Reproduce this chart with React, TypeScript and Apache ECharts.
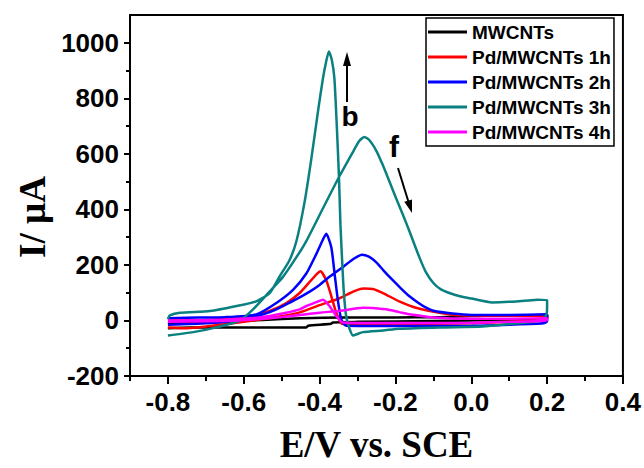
import React, { useEffect, useRef } from "react";
import * as echarts from "echarts";

// ---- data (E in V vs. SCE, I in µA); each curve is a closed CV loop ----
const seriesNames = ["MWCNTs", "Pd/MWCNTs 1h", "Pd/MWCNTs 2h", "Pd/MWCNTs 3h", "Pd/MWCNTs 4h"];
const seriesColors = ["#000000", "#ff0000", "#0000ff", "#0a8080", "#ff00ff"];

const mwcntsE = [-0.8, -0.742, -0.6, -0.435, -0.43, -0.37, -0.365, -0.3, -0.1, 0.1, 0.2, 0.2, 0.18, 0.1, 0.0, -0.084, -0.2, -0.347, -0.45, -0.55, -0.681, -0.8];
const mwcntsI = [-28, -25, -25, -25, -19, -12, -7, -5, -2, 2, 8, 20, 19, 19, 16, 12, 11, 11, 8, 2, -7, -10];

const pd1hE = [-0.8, -0.75, -0.7, -0.6, -0.55, -0.5, -0.45, -0.4, -0.347, -0.32, -0.3, -0.282, -0.26, -0.24, -0.225, -0.19, -0.146, -0.084, -0.03, 0.1, 0.2,
  0.2, 0.1, 0.0, -0.2, -0.339, -0.356, -0.369, -0.3824, -0.398, -0.422, -0.4526, -0.4876, -0.532, -0.593, -0.7, -0.8];
const pd1hI = [-25, -28, -22, -5, 5, 15, 30, 55, 80, 98, 110, 115, 113, 103, 93, 69, 46, 28, 19, 17, 16,
  5, -5, -10, -13, -13, 28, 87, 145, 177, 145, 99, 63, 34, 11, 2, 0];

const pd2hE = [-0.8, -0.7, -0.62, -0.567, -0.549, -0.52, -0.4966, -0.46, -0.426, -0.4, -0.374, -0.339, -0.31, -0.2887, -0.27, -0.251, -0.23, -0.207, -0.185, -0.163, -0.14, -0.119, -0.1, -0.05, 0.0, 0.1, 0.2,
  0.2, 0.19, 0.1, 0.0, -0.2, -0.33, -0.343, -0.352, -0.3605, -0.369, -0.3824, -0.395, -0.4088, -0.435, -0.47, -0.514, -0.567, -0.65, -0.75, -0.8];
const pd2hI = [-15, -10, 0, 15, 22, 36, 52, 78, 104, 128, 157, 192, 222, 237, 230, 210, 178, 145, 115, 87, 64, 46, 35, 25, 20, 20, 22,
  -3, -10, -15, -19, -20, -19, 5, 75, 169, 263, 312, 280, 239, 169, 110, 63, 22, 12, 10, 8];

const pd3hE = [-0.8, -0.733, -0.672, -0.611, -0.5755, -0.532, -0.4966, -0.461, -0.435, -0.391, -0.347, -0.31, -0.295, -0.282, -0.268, -0.25, -0.235, -0.22, -0.198, -0.18, -0.163, -0.137, -0.12, -0.1, -0.08, -0.054, -0.03, 0.0, 0.055, 0.1, 0.15, 0.174, 0.2,
  0.2, 0.197, 0.18, 0.1, 0.03, -0.084, -0.19, -0.233, -0.286, -0.312, -0.321, -0.33, -0.336, -0.34, -0.345, -0.349, -0.3545, -0.361, -0.368, -0.3755, -0.383, -0.391, -0.404, -0.422, -0.4395, -0.461, -0.48, -0.505, -0.532, -0.567, -0.619, -0.689, -0.768, -0.795, -0.8];
const pd3hI = [-54, -42, -25, -1, 40, 104, 157, 228, 286, 404, 521, 612, 647, 661, 648, 610, 565, 515, 439, 380, 321, 228, 175, 135, 112, 97, 87, 79, 65, 67, 72, 75, 74,
  46, 17, -1, -13, -22, -25, -30, -36, -42, -54, -30, 16, 100, 200, 345, 521, 697, 873, 940, 969, 930, 873, 755, 580, 427, 286, 215, 160, 98, 69, 52, 34, 28, 18, 5];

const pd4hE = [-0.8, -0.7, -0.619, -0.55, -0.5, -0.45, -0.4, -0.35, -0.3297, -0.3, -0.286, -0.26, -0.225, -0.19, -0.163, -0.1, 0.0, 0.1, 0.2,
  0.2, 0.1, 0.0, -0.2, -0.339, -0.356, -0.374, -0.391, -0.41, -0.435, -0.4526, -0.488, -0.558, -0.65, -0.8];
const pd4hI = [-5, -3, 0, 6, 12, 20, 28, 34, 38, 44, 46, 45, 40, 30, 22, 11, 6, 6, 8,
  0, -5, -8, -9, -7, 16, 52, 75, 65, 52, 40, 28, 11, 3, 0];

const curveE = [mwcntsE, pd1hE, pd2hE, pd3hE, pd4hE];
const curveI = [mwcntsI, pd1hI, pd2hI, pd3hI, pd4hI];

const xMajorTicks = [-0.8, -0.6, -0.4, -0.2, 0.0, 0.2, 0.4];
const xMinorTicks = [-0.9, -0.7, -0.5, -0.3, -0.1, 0.1, 0.3];
const yMajorTicks = [-200, 0, 200, 400, 600, 800, 1000];
const yMinorTicks = [-100, 100, 300, 500, 700, 900];

const sans = "Liberation Sans";
const serif = "Liberation Serif";

export default function App() {
  const ref = useRef<HTMLDivElement>(null);

  useEffect(() => {
    if (!ref.current) return;
    const chart = echarts.init(ref.current, null, { renderer: "svg" });

    const series = seriesNames.map((name, k) => ({
      name,
      type: "line",
      xAxisIndex: 0,
      yAxisIndex: 0,
      data: curveE[k].map((e, i) => [e, curveI[k][i]]),
      showSymbol: false,
      symbol: "none",
      smooth: 0.2,
      lineStyle: { color: seriesColors[k], width: 2.5 },
      itemStyle: { color: seriesColors[k] },
      z: 2 + k,
    }));

    const tickLabel = {
      color: "#000",
      fontFamily: sans,
      fontWeight: "bold" as const,
      fontSize: 26,
    };

    chart.setOption({
      animation: false,
      backgroundColor: "#fff",
      grid: {
        left: 130,
        right: 20,
        top: 15,
        bottom: 83,
        show: true,
        borderColor: "#000",
        borderWidth: 2,
        backgroundColor: "transparent",
      },
      legend: {
        orient: "vertical",
        left: 426,
        top: 18,
        padding: [4, 3, 4, 2],
        icon: "rect",
        itemWidth: 39,
        itemHeight: 3,
        itemGap: 5,
        selectedMode: false,
        backgroundColor: "#fff",
        borderColor: "#000",
        borderWidth: 1.5,
        data: seriesNames,
        textStyle: {
          color: "#000",
          fontFamily: sans,
          fontWeight: "bold",
          fontSize: 19,
          lineHeight: 20,
        },
      },
      xAxis: [
        {
          type: "value",
          min: -0.9,
          max: 0.4,
          position: "bottom",
          axisLine: { show: true, onZero: false, lineStyle: { color: "#000", width: 2 } },
          axisTick: { show: true, customValues: xMajorTicks, length: 8, lineStyle: { color: "#000", width: 2 } },
          axisLabel: {
            ...tickLabel,
            customValues: xMajorTicks,
            margin: 13,
            formatter: (v: number) => v.toFixed(1),
          },
          splitLine: { show: false },
          name: "E/V vs. SCE",
          nameLocation: "middle",
          nameGap: 50,
          nameTextStyle: { color: "#000", fontFamily: serif, fontWeight: "bold", fontSize: 37 },
        },
        {
          type: "value",
          min: -0.9,
          max: 0.4,
          position: "bottom",
          axisLine: { show: false, onZero: false },
          axisTick: { show: true, customValues: xMinorTicks, length: 5, lineStyle: { color: "#000", width: 2 } },
          axisLabel: { show: false },
          splitLine: { show: false },
        },
      ],
      yAxis: [
        {
          type: "value",
          min: -200,
          max: 1100,
          position: "left",
          axisLine: { show: true, onZero: false, lineStyle: { color: "#000", width: 2 } },
          axisTick: { show: true, customValues: yMajorTicks, length: 6, lineStyle: { color: "#000", width: 2 } },
          axisLabel: { ...tickLabel, customValues: yMajorTicks, margin: 11, formatter: (v: number) => String(v) },
          splitLine: { show: false },
        },
        {
          type: "value",
          min: -200,
          max: 1100,
          position: "left",
          axisLine: { show: false, onZero: false },
          axisTick: { show: true, customValues: yMinorTicks, length: 4, lineStyle: { color: "#000", width: 2 } },
          axisLabel: { show: false },
          splitLine: { show: false },
        },
      ],
      series,
      graphic: [
        {
          type: "text",
          x: 32,
          y: 217,
          rotation: Math.PI / 2,
          style: {
            text: "I/ µA",
            fill: "#000",
            font: `bold 37px "${serif}"`,
            align: "center",
            verticalAlign: "middle",
          },
          z: 50,
        },
        {
          type: "line",
          shape: { x1: 347, y1: 102, x2: 347, y2: 62 },
          style: { stroke: "#000", lineWidth: 2 },
          z: 50,
        },
        {
          type: "polygon",
          shape: { points: [[347, 52], [343, 66], [351, 66]] },
          style: { fill: "#000" },
          z: 50,
        },
        {
          type: "text",
          x: 350,
          y: 116,
          style: { text: "b", fill: "#000", font: `bold 28px "${sans}"`, align: "center", verticalAlign: "middle" },
          z: 50,
        },
        {
          type: "line",
          shape: { x1: 398, y1: 168, x2: 408.5, y2: 202 },
          style: { stroke: "#000", lineWidth: 2 },
          z: 50,
        },
        {
          type: "polygon",
          shape: { points: [[412, 213], [412, 199.5], [404.3, 201.8]] },
          style: { fill: "#000" },
          z: 50,
        },
        {
          type: "text",
          x: 394,
          y: 146,
          style: { text: "f", fill: "#000", font: `bold 30px "${sans}"`, align: "center", verticalAlign: "middle" },
          z: 50,
        },
      ],
    });

    return () => {
      chart.dispose();
    };
  }, []);

  return (
    <div
      ref={ref}
      style={{ position: "fixed", left: 0, top: 0, width: 644, height: 468, background: "#fff" }}
    />
  );
}
